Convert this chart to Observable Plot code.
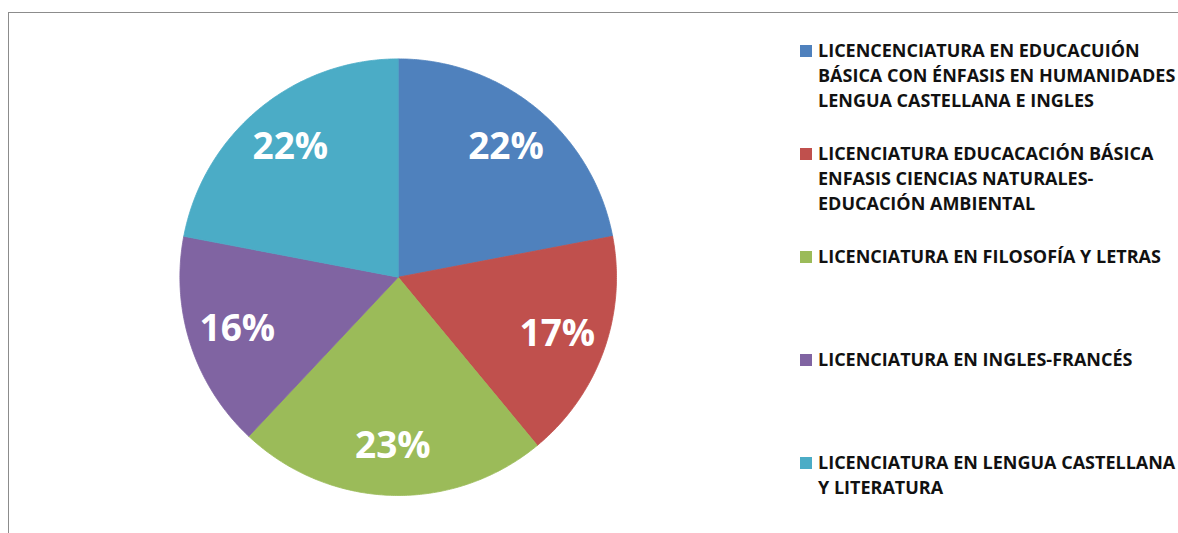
<!DOCTYPE html>
<html>
<head>
<meta charset="utf-8">
<script src="https://cdn.jsdelivr.net/npm/d3@7"></script>
<script src="https://cdn.jsdelivr.net/npm/@observablehq/plot@0.6"></script>
<style>
  body { margin: 0; background: #fff; }
  #wrap { position: relative; width: 1178px; height: 533px; overflow: hidden; background: #fff; }
  #frame { position: absolute; left: 8px; top: 12px; right: -20px; bottom: -20px;
           border-left: 1.5px solid #8c8c8c; border-top: 1.5px solid #8c8c8c; }
  #chart { position: absolute; left: 0; top: 0; }
  #legend { position: absolute; left: 0; top: 0; width: 1178px; height: 533px;
            font-family: "Open Sans", sans-serif; font-weight: 700; font-size: 18px; color: #111; }
  .item { position: absolute; left: 800px; white-space: pre; line-height: 25px; }
  .sw { position: absolute; left: 0; top: 7px; width: 12px; height: 12px; }
  .tx { position: absolute; left: 18px; top: 0; }
</style>
</head>
<body>
<div id="wrap">
  <div id="frame"></div>
  <div id="chart"></div>
  <div id="legend"></div>
</div>
<script>
// ---- data ----
const categories = [
  "LICENCENCIATURA EN EDUCACUIÓN\nBÁSICA CON ÉNFASIS EN HUMANIDADES\nLENGUA CASTELLANA E INGLES",
  "LICENCIATURA EDUCACACIÓN BÁSICA\nENFASIS CIENCIAS NATURALES-\nEDUCACIÓN AMBIENTAL",
  "LICENCIATURA EN FILOSOFÍA Y LETRAS",
  "LICENCIATURA EN INGLES-FRANCÉS",
  "LICENCIATURA EN LENGUA CASTELLANA\nY LITERATURA"
];
const values = [22, 17, 23, 16, 22];
const colors = ["#4F81BD", "#C0504D", "#9BBB59", "#8064A2", "#4BACC6"];

// ---- build pie geometry from values ----
const total = d3.sum(values);
const pts = [];
const labels = [];
let acc = 0;
categories.forEach((name, i) => {
  const a0 = acc / total * 2 * Math.PI;
  acc += values[i];
  const a1 = acc / total * 2 * Math.PI;
  pts.push({name, x: 0, y: 0});
  const n = Math.max(2, Math.ceil((a1 - a0) / 0.01));
  for (let k = 0; k <= n; k++) {
    const a = a0 + (a1 - a0) * k / n;
    pts.push({name, x: Math.sin(a), y: Math.cos(a)});
  }
  pts.push({name, x: 0, y: 0});
  const am = (a0 + a1) / 2;
  const lr = 0.775;
  labels.push({name, x: lr * Math.sin(am), y: lr * Math.cos(am),
               text: Math.round(values[i] / total * 100) + "%"});
});

const cx = 397.7, cy = 276.7, R = 218.3;
const plot = Plot.plot({
  width: 1178,
  height: 533,
  margin: 0,
  style: {background: "transparent"},
  x: {domain: [-1, 1], range: [cx - R, cx + R], axis: null},
  y: {domain: [-1, 1], range: [cy + R, cy - R], axis: null},
  color: {type: "ordinal", domain: categories, range: colors},
  marks: [
    Plot.line(pts, {x: "x", y: "y", z: "name", fill: "name", stroke: "name", strokeWidth: 0.8, curve: "linear"}),
    Plot.text(labels, {x: "x", y: "y", text: "text", fill: "white", fontSize: 37,
                       fontWeight: "bold", fontFamily: "Open Sans", textAnchor: "middle"})
  ]
});
document.getElementById("chart").appendChild(plot);

// ---- legend ----
const leg = document.getElementById("legend");
categories.forEach((name, i) => {
  const it = document.createElement("div");
  it.className = "item";
  it.style.top = (37.5 + i * 103) + "px";
  const sw = document.createElement("div");
  sw.className = "sw";
  sw.style.background = colors[i];
  const tx = document.createElement("div");
  tx.className = "tx";
  tx.textContent = name;
  it.appendChild(sw);
  it.appendChild(tx);
  leg.appendChild(it);
});
</script>
</body>
</html>
